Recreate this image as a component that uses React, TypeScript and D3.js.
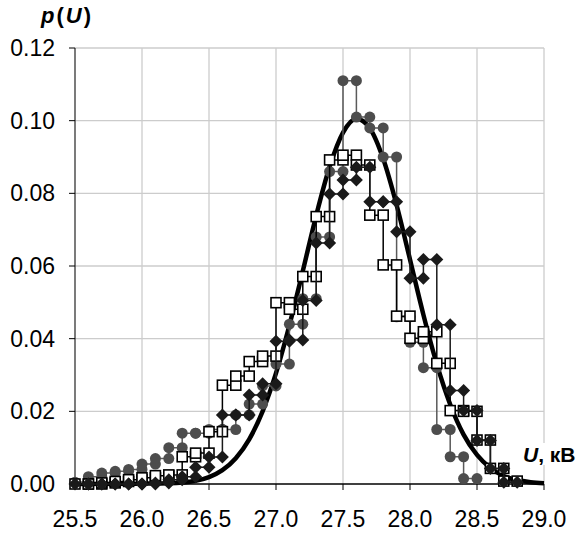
import { useEffect, useRef } from "react";
import * as d3 from "d3";

const W = 588;
const H = 533;
const margin = { left: 75, right: 44, top: 48, bottom: 49 };

// bin edges (kV), each bin is 0.1 wide
const binEdges = [
  25.5, 25.6, 25.7, 25.8, 25.9, 26.0, 26.1, 26.2, 26.3, 26.4, 26.5, 26.6,
  26.7, 26.8, 26.9, 27.0, 27.1, 27.2, 27.3, 27.4, 27.5, 27.6, 27.7, 27.8,
  27.9, 28.0, 28.1, 28.2, 28.3, 28.4, 28.5, 28.6, 28.7, 28.8,
];

// gray circles
const circleValues = [
  0.0005, 0.002, 0.003, 0.0035, 0.004, 0.0055, 0.007, 0.01, 0.014, 0.014,
  0.015, 0.015, 0.019, 0.022, 0.027, 0.033, 0.044, 0.051, 0.068, 0.086,
  0.111, 0.101, 0.098, 0.09, 0.046, 0.039, 0.032, 0.015, 0.0075, 0.0015,
];

// white squares
const squareValues = [
  0, 0, 0.0003, 0.0007, 0.0012, 0.0017, 0.0023, 0.0025, 0.0075, 0.0085,
  0.0144, 0.0272, 0.0297, 0.0337, 0.0352, 0.0499, 0.0481, 0.0571, 0.0736,
  0.0892, 0.0905, 0.0878, 0.074, 0.0603, 0.0462, 0.0401, 0.0419, 0.0332,
  0.0202, 0.02, 0.0121, 0.0043, 0.0008,
];

// black diamonds
const diamondValues = [
  0, 0, 0, 0, 0, 0, 0.0003, 0.0012, 0.002, 0.0046, 0.0074, 0.019, 0.019,
  0.0245, 0.0276, 0.0393, 0.0396, 0.0505, 0.0663, 0.0798, 0.0837, 0.0872,
  0.0777, 0.0777, 0.0694, 0.0566, 0.0618, 0.0438, 0.0257, 0.0202, 0.012,
  0.0043, 0.0005,
];

// smooth fitted curve
const fitX = [
  25.5, 26.0, 26.2, 26.4, 26.5, 26.6, 26.7, 26.8, 26.9, 27.0, 27.1, 27.2,
  27.3, 27.4, 27.5, 27.6, 27.7, 27.8, 27.9, 28.0, 28.1, 28.2, 28.3, 28.4,
  28.5, 28.6, 28.7, 28.8, 28.9, 29.0,
];
const fitY = [
  0, 0.0001, 0.0002, 0.0009, 0.0019, 0.0038, 0.0071, 0.0123, 0.02, 0.0305,
  0.0437, 0.0586, 0.0739, 0.0873, 0.0967, 0.1005, 0.0979, 0.0895, 0.0768,
  0.0618, 0.0466, 0.033, 0.0219, 0.0136, 0.008, 0.0044, 0.0022, 0.0011,
  0.0005, 0.0002,
];

const xTicks = [25.5, 26.0, 26.5, 27.0, 27.5, 28.0, 28.5, 29.0];
const yTicks = [0, 0.02, 0.04, 0.06, 0.08, 0.1, 0.12];

const FONT = "'Liberation Sans', Arial, sans-serif";

function stepPoints(values: number[]) {
  const pts: [number, number][] = [];
  values.forEach((v, k) => {
    pts.push([binEdges[k], v]);
    pts.push([binEdges[k + 1], v]);
  });
  return pts;
}

const App = () => {
  const svgRef = useRef<SVGSVGElement | null>(null);

  useEffect(() => {
    if (!svgRef.current) return;
    const svg = d3.select(svgRef.current);
    svg.selectAll("*").remove();

    const x = d3
      .scaleLinear()
      .domain([25.5, 29.0])
      .range([margin.left, W - margin.right]);
    const y = d3
      .scaleLinear()
      .domain([0, 0.12])
      .range([H - margin.bottom, margin.top]);

    // grid
    const grid = svg.append("g");
    grid
      .selectAll(".vg")
      .data(xTicks.slice(1))
      .join("line")
      .attr("x1", (d) => x(d))
      .attr("x2", (d) => x(d))
      .attr("y1", y(0))
      .attr("y2", y(0.12))
      .attr("stroke", "#cccccc")
      .attr("stroke-width", 1.3);
    grid
      .selectAll(".hg")
      .data(yTicks.slice(1))
      .join("line")
      .attr("x1", x(25.5))
      .attr("x2", x(29.0))
      .attr("y1", (d) => y(d))
      .attr("y2", (d) => y(d))
      .attr("stroke", "#cccccc")
      .attr("stroke-width", 1.3);

    // axes
    svg
      .append("line")
      .attr("x1", x(25.5))
      .attr("x2", x(25.5))
      .attr("y1", y(0))
      .attr("y2", y(0.12))
      .attr("stroke", "#333")
      .attr("stroke-width", 1.3);
    svg
      .append("line")
      .attr("x1", x(25.5))
      .attr("x2", x(29.0))
      .attr("y1", y(0))
      .attr("y2", y(0))
      .attr("stroke", "#000")
      .attr("stroke-width", 1.3);

    svg
      .append("g")
      .selectAll("line")
      .data(yTicks)
      .join("line")
      .attr("x1", x(25.5) - 6)
      .attr("x2", x(25.5))
      .attr("y1", (d) => y(d))
      .attr("y2", (d) => y(d))
      .attr("stroke", "#000");
    svg
      .append("g")
      .selectAll("line")
      .data(xTicks)
      .join("line")
      .attr("x1", (d) => x(d))
      .attr("x2", (d) => x(d))
      .attr("y1", y(0))
      .attr("y2", y(0) + 6)
      .attr("stroke", "#000");

    svg
      .append("g")
      .selectAll("text")
      .data(yTicks)
      .join("text")
      .attr("x", 55)
      .attr("y", (d) => y(d) + 8)
      .attr("text-anchor", "end")
      .attr("font-family", FONT)
      .attr("font-size", 23)
      .attr("fill", "#000")
      .text((d) => d3.format(".2f")(d));
    svg
      .append("g")
      .selectAll("text")
      .data(xTicks)
      .join("text")
      .attr("x", (d) => x(d))
      .attr("y", 527)
      .attr("text-anchor", "middle")
      .attr("font-family", FONT)
      .attr("font-size", 23)
      .attr("fill", "#000")
      .text((d) => d3.format(".1f")(d));

    // fitted curve
    const fitLine = d3
      .line<number>()
      .x((d, i) => x(fitX[i]))
      .y((d) => y(d))
      .curve(d3.curveMonotoneX);
    svg
      .append("path")
      .attr("d", fitLine(fitY))
      .attr("fill", "none")
      .attr("stroke", "#000")
      .attr("stroke-width", 4.5)
      .attr("stroke-linejoin", "round");

    const step = d3
      .line<[number, number]>()
      .x((d) => x(d[0]))
      .y((d) => y(d[1]));

    // gray circles
    const cPts = stepPoints(circleValues);
    svg
      .append("path")
      .attr("d", step(cPts))
      .attr("fill", "none")
      .attr("stroke", "#5a5a5a")
      .attr("stroke-width", 1.5);
    svg
      .append("g")
      .selectAll("circle")
      .data(cPts)
      .join("circle")
      .attr("cx", (d) => x(d[0]))
      .attr("cy", (d) => y(d[1]))
      .attr("r", 5.5)
      .attr("fill", "#4d4d4d");

    // white squares
    const sPts = stepPoints(squareValues);
    svg
      .append("path")
      .attr("d", step(sPts))
      .attr("fill", "none")
      .attr("stroke", "#000")
      .attr("stroke-width", 1.5);
    svg
      .append("g")
      .selectAll("rect")
      .data(sPts)
      .join("rect")
      .attr("x", (d) => x(d[0]) - 5)
      .attr("y", (d) => y(d[1]) - 5)
      .attr("width", 10)
      .attr("height", 10)
      .attr("fill", "#fff")
      .attr("stroke", "#000")
      .attr("stroke-width", 1.6);

    // black diamonds
    const dPts = stepPoints(diamondValues);
    svg
      .append("path")
      .attr("d", step(dPts))
      .attr("fill", "none")
      .attr("stroke", "#1a1a1a")
      .attr("stroke-width", 1.5);
    const r = 6.5;
    svg
      .append("g")
      .selectAll("path")
      .data(dPts)
      .join("path")
      .attr("d", `M0,${-r}L${r},0L0,${r}L${-r},0Z`)
      .attr("transform", (d) => `translate(${x(d[0])},${y(d[1])})`)
      .attr("fill", "#1a1a1a");

    // axis titles
    const yt = svg
      .append("text")
      .attr("x", 41)
      .attr("y", 23)
      .attr("font-family", FONT)
      .attr("font-size", 22)
      .attr("font-weight", "bold")
      .attr("letter-spacing", 2)
      .attr("fill", "#000");
    yt.append("tspan").attr("font-style", "italic").text("p");
    yt.append("tspan").text("(");
    yt.append("tspan").attr("font-style", "italic").text("U");
    yt.append("tspan").text(")");

    svg
      .append("rect")
      .attr("x", 521)
      .attr("y", 443)
      .attr("width", 67)
      .attr("height", 22)
      .attr("fill", "#fff");
    const xt = svg
      .append("text")
      .attr("x", 523)
      .attr("y", 462)
      .attr("font-family", FONT)
      .attr("font-size", 21)
      .attr("font-weight", "bold")
      .attr("fill", "#000");
    xt.append("tspan").attr("font-style", "italic").text("U");
    xt.append("tspan").text(", кВ");
  }, []);

  return (
    <svg
      ref={svgRef}
      width={W}
      height={H}
      style={{ position: "absolute", left: 0, top: 0, background: "#fff" }}
    />
  );
};

export default App;
